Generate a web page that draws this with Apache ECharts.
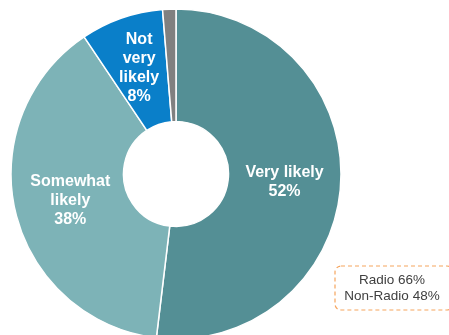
<!DOCTYPE html>
<html>
<head>
<meta charset="utf-8">
<script src="https://cdn.jsdelivr.net/npm/echarts@6/dist/echarts.min.js"></script>
<style>
    html, body { margin: 0; padding: 0; background: #fff; }
    #main { width: 449px; height: 335px; }
</style>
</head>
<body>
<div id="main"></div>
<script>
// 数据
var categories = ['Very likely', 'Somewhat likely', 'Not very likely', 'Other'];
var values = [51.9, 38.7, 8.1, 1.3];
var labelTexts = ['Very likely\n52%', 'Somewhat\nlikely\n38%', 'Not\nvery\nlikely\n8%', ''];
var colors = ['#548F95', '#7DB3B7', '#0A7FC9', '#808080'];
var noteLines = ['Radio 66%', 'Non-Radio 48%'];

var chart = echarts.init(document.getElementById('main'));

// 标签略向圆心靠拢
var labelOffsets = [[-3, 1], [3, 1], [0, 0], [0, 0]];

var pieData = [];
for (var i = 0; i < categories.length; i++) {
    pieData.push({
        name: categories[i],
        value: values[i],
        itemStyle: { color: colors[i] },
        label: { show: labelTexts[i] !== '', offset: labelOffsets[i] }
    });
}

var option = {
    animation: false,
    series: [
        {
            type: 'pie',
            center: [176, 174],
            radius: [52.5, 165],
            startAngle: 90,
            clockwise: true,
            avoidLabelOverlap: false,
            itemStyle: {
                borderColor: '#fff',
                borderWidth: 1.5
            },
            label: {
                position: 'inside',
                color: '#fff',
                fontFamily: 'Liberation Sans, Arial, sans-serif',
                fontWeight: 'bold',
                fontSize: 16,
                lineHeight: 19,
                formatter: function (p) {
                    return labelTexts[p.dataIndex];
                }
            },
            labelLine: { show: false },
            emphasis: { disabled: true },
            data: pieData
        }
    ],
    graphic: [
        {
            type: 'rect',
            shape: { x: 335, y: 266, width: 118, height: 44, r: 6 },
            style: {
                fill: '#fff',
                stroke: '#F6A55E',
                lineWidth: 1.2,
                lineDash: [4, 3]
            }
        },
        {
            type: 'text',
            x: 392,
            y: 288,
            style: {
                text: noteLines.join('\n'),
                fill: '#404040',
                font: '13.5px "Liberation Sans", Arial, sans-serif',
                lineHeight: 16,
                align: 'center',
                verticalAlign: 'middle'
            }
        }
    ]
};
chart.setOption(option);
</script>
</body>
</html>
